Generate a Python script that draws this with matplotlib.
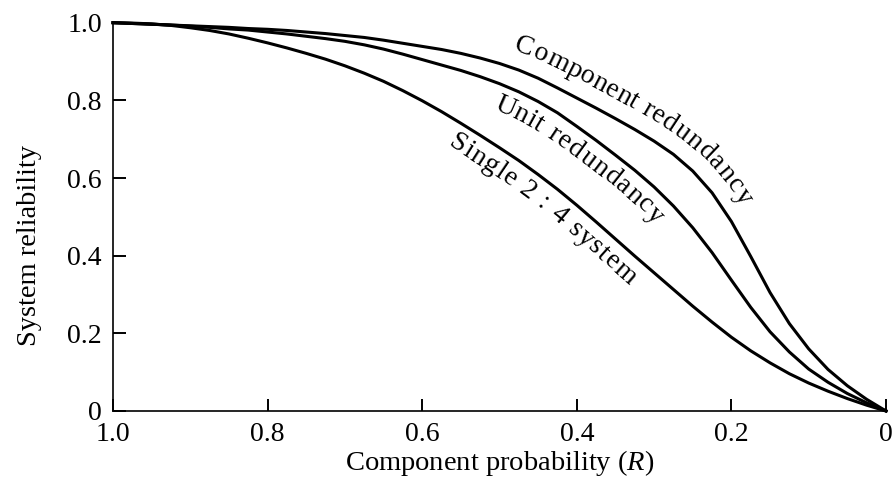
import numpy as np
import matplotlib.pyplot as plt
from matplotlib.transforms import IdentityTransform

plt.rcParams['font.family'] = ['Liberation Serif', 'DejaVu Serif']
plt.rcParams['mathtext.fontset'] = 'custom'
plt.rcParams['mathtext.rm'] = 'Liberation Serif'
plt.rcParams['mathtext.it'] = 'Liberation Serif:italic'

# component probability R, every 0.025
R = [0.0, 0.025, 0.05, 0.075, 0.1, 0.125, 0.15, 0.175, 0.2, 0.225,
     0.25, 0.275, 0.3, 0.325, 0.35, 0.375, 0.4, 0.425, 0.45, 0.475,
     0.5, 0.525, 0.55, 0.575, 0.6, 0.625, 0.65, 0.675, 0.7, 0.725,
     0.75, 0.775, 0.8, 0.825, 0.85, 0.875, 0.9, 0.925, 0.95, 0.975, 1.0]
component_red = [0.0, 0.030, 0.065, 0.107, 0.160, 0.225, 0.305, 0.398, 0.488, 0.562,
                 0.618, 0.661, 0.695, 0.725, 0.753, 0.780, 0.806, 0.832, 0.857, 0.878,
                 0.895, 0.909, 0.921, 0.931, 0.939, 0.947, 0.955, 0.962, 0.967, 0.972,
                 0.976, 0.980, 0.983, 0.985, 0.988, 0.990, 0.992, 0.994, 0.996, 0.998, 1.0]
unit_red = [0.0, 0.021, 0.045, 0.074, 0.108, 0.152, 0.204, 0.267, 0.337, 0.408,
            0.472, 0.528, 0.577, 0.620, 0.659, 0.697, 0.733, 0.768, 0.797, 0.822,
            0.843, 0.861, 0.877, 0.891, 0.905, 0.919, 0.932, 0.943, 0.952, 0.959,
            0.965, 0.971, 0.976, 0.981, 0.984, 0.988, 0.991, 0.994, 0.996, 0.998, 1.0]
single_24 = [0.0, 0.015, 0.032, 0.051, 0.072, 0.096, 0.124, 0.155, 0.190, 0.229,
             0.270, 0.313, 0.356, 0.399, 0.443, 0.487, 0.530, 0.571, 0.609, 0.645,
             0.678, 0.710, 0.741, 0.771, 0.799, 0.825, 0.849, 0.870, 0.889, 0.906,
             0.921, 0.935, 0.948, 0.960, 0.971, 0.980, 0.987, 0.993, 0.997, 0.999, 1.0]

xticks = [1.0, 0.8, 0.6, 0.4, 0.2, 0.0]
xticklabels = ['1.0', '0.8', '0.6', '0.4', '0.2', '0']
yticks = [0.0, 0.2, 0.4, 0.6, 0.8, 1.0]
yticklabels = ['0', '0.2', '0.4', '0.6', '0.8', '1.0']

fig = plt.figure(figsize=(8.93, 4.93), dpi=100)
ax = fig.add_axes([113/893, 82/493, 773/893, 388.3/493])

for ys in (component_red, unit_red, single_24):
    ax.plot(R, ys, color='black', lw=2.2, clip_on=False)

ax.set_xlim(1.0, 0.0)
ax.set_ylim(0.0, 1.0)
ax.set_xticks(xticks)
ax.set_xticklabels(xticklabels)
ax.set_yticks(yticks)
ax.set_yticklabels(yticklabels)
ax.tick_params(direction='in', length=9, width=1.4, labelsize=20, pad=8)
for s in ('top', 'right'):
    ax.spines[s].set_visible(False)
for s in ('left', 'bottom'):
    ax.spines[s].set_linewidth(1.2)

ax.set_xlabel('Component probability ($\\mathit{R}$)', fontsize=20.5, labelpad=1)
ax.set_ylabel('System reliability', fontsize=20.5)
ax.yaxis.set_label_coords(-0.092, 0.4275)

fig.canvas.draw()
renderer = fig.canvas.get_renderer()


def char_width(ch, size):
    t1 = fig.text(0, 0, 'a' + ch + 'a', fontsize=size)
    t2 = fig.text(0, 0, 'aa', fontsize=size)
    w = t1.get_window_extent(renderer).width - t2.get_window_extent(renderer).width
    t1.remove()
    t2.remove()
    return w


def curve_text(xs, ys, s, r0, r1, d, size=20):
    # lay the letters of s along the curve, from r0 to r1, d px off the curve
    pts = ax.transData.transform(np.column_stack([xs, ys]))
    pts = pts[np.argsort(pts[:, 0])]
    seg = np.hypot(np.diff(pts[:, 0]), np.diff(pts[:, 1]))
    arc = np.concatenate([[0], np.cumsum(seg)])
    tx = np.gradient(pts[:, 0], arc)
    ty = np.gradient(pts[:, 1], arc)
    ang = np.arctan2(ty, tx)
    a0 = np.interp(ax.transData.transform((r0, 0))[0], pts[:, 0], arc)
    a1 = np.interp(ax.transData.transform((r1, 0))[0], pts[:, 0], arc)
    w = [char_width(c, size) for c in s]
    gap = (a1 - a0 - sum(w)) / (len(s) - 1)
    pos = a0
    for c, wc in zip(s, w):
        ac = pos + wc / 2
        px = np.interp(ac, arc, pts[:, 0])
        py = np.interp(ac, arc, pts[:, 1])
        an = np.interp(ac, arc, ang)
        nx, ny = -np.sin(an), np.cos(an)
        fig.text(px + d * nx, py + d * ny, c, transform=IdentityTransform(),
                 rotation=np.degrees(an), rotation_mode='anchor',
                 ha='center', va='baseline', fontsize=size)
        pos += wc + gap


curve_text(R, component_red, 'Component redundancy', 0.49, 0.205, 17)
curve_text(R, unit_red, 'Unit redundancy', 0.495, 0.275, -26)
curve_text(R, single_24, 'Single 2 : 4 system', 0.55, 0.31, -26)

fig.savefig('out.png', dpi=100)
